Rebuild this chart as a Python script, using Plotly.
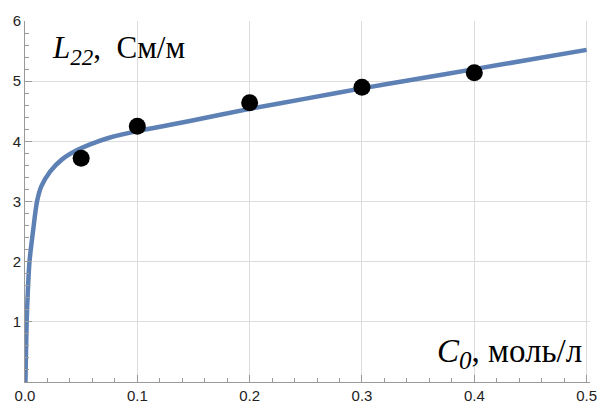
import plotly.graph_objects as go

# Fitted curve
curve_x = [0.0004, 0.0009, 0.0015, 0.0025, 0.004, 0.0071, 0.0107, 0.0145, 0.0225,
           0.033, 0.046, 0.058, 0.075, 0.1, 0.15, 0.2, 0.25, 0.3, 0.35, 0.4, 0.45, 0.5]
curve_y = [0.0, 0.5, 1.0, 1.5, 2.0, 2.5, 3.0, 3.25, 3.5,
           3.7, 3.85, 3.95, 4.06, 4.17, 4.35, 4.54, 4.71, 4.88, 5.04, 5.20, 5.36, 5.52]

# Experimental points
pts_x = [0.05, 0.1, 0.2, 0.3, 0.4]
pts_y = [3.72, 4.25, 4.64, 4.90, 5.14]

x_ticks = [0.0, 0.1, 0.2, 0.3, 0.4, 0.5]
x_labels = ["0.0", "0.1", "0.2", "0.3", "0.4", "0.5"]
y_ticks = [1, 2, 3, 4, 5, 6]
y_labels = ["1", "2", "3", "4", "5", "6"]

fig = go.Figure()
fig.add_trace(go.Scatter(x=curve_x, y=curve_y, mode="lines",
                         line=dict(color="rgb(94,129,181)", width=4.5, shape="spline", smoothing=0.8),
                         showlegend=False))
fig.add_trace(go.Scatter(x=pts_x, y=pts_y, mode="markers",
                         marker=dict(color="black", size=17),
                         showlegend=False))

axis_common = dict(showline=True, linecolor="#9a9a9a", linewidth=1,
                   showgrid=True, gridcolor="#dcdcdc", gridwidth=1,
                   zeroline=False, ticks="inside", ticklen=7, tickcolor="#9a9a9a",
                   automargin=False, ticklabeloverflow="allow",
                   tickfont=dict(family="Liberation Sans, Arial", size=15, color="#222222"))

fig.update_xaxes(range=[0, 0.503], tickvals=x_ticks, ticktext=x_labels,
                 minor=dict(dtick=0.02, ticks="inside", ticklen=4, tickcolor="#9a9a9a", showgrid=False),
                 **axis_common)
fig.update_yaxes(range=[0, 6], tickvals=y_ticks, ticktext=y_labels,
                 minor=dict(dtick=0.2, ticks="inside", ticklen=4, tickcolor="#9a9a9a", showgrid=False),
                 **axis_common)

fig.add_annotation(xref="paper", yref="paper", x=0.044, y=0.92, xanchor="left", yanchor="middle",
                   text="<i>L</i><sub><i><span style='font-size:23px'>22</span></i></sub>,  См/м", showarrow=False,
                   font=dict(family="Liberation Serif, Times New Roman", size=31, color="black"))
fig.add_annotation(xref="paper", yref="paper", x=0.99, y=0.08, xanchor="right", yanchor="middle",
                   text="<i>C</i><sub><i><span style='font-size:25px'>0</span></i></sub>, моль/л", showarrow=False,
                   font=dict(family="Liberation Serif, Times New Roman", size=33, color="black"))

fig.update_layout(width=598, height=403, margin=dict(l=25, r=8, t=21, b=21),
                  plot_bgcolor="white", paper_bgcolor="white")

# remove the default page margin so the figure fills the window exactly
fig.write_html("out.html", config={"displayModeBar": False},
               post_script="document.body.style.margin='0';document.body.style.overflow='hidden';")
